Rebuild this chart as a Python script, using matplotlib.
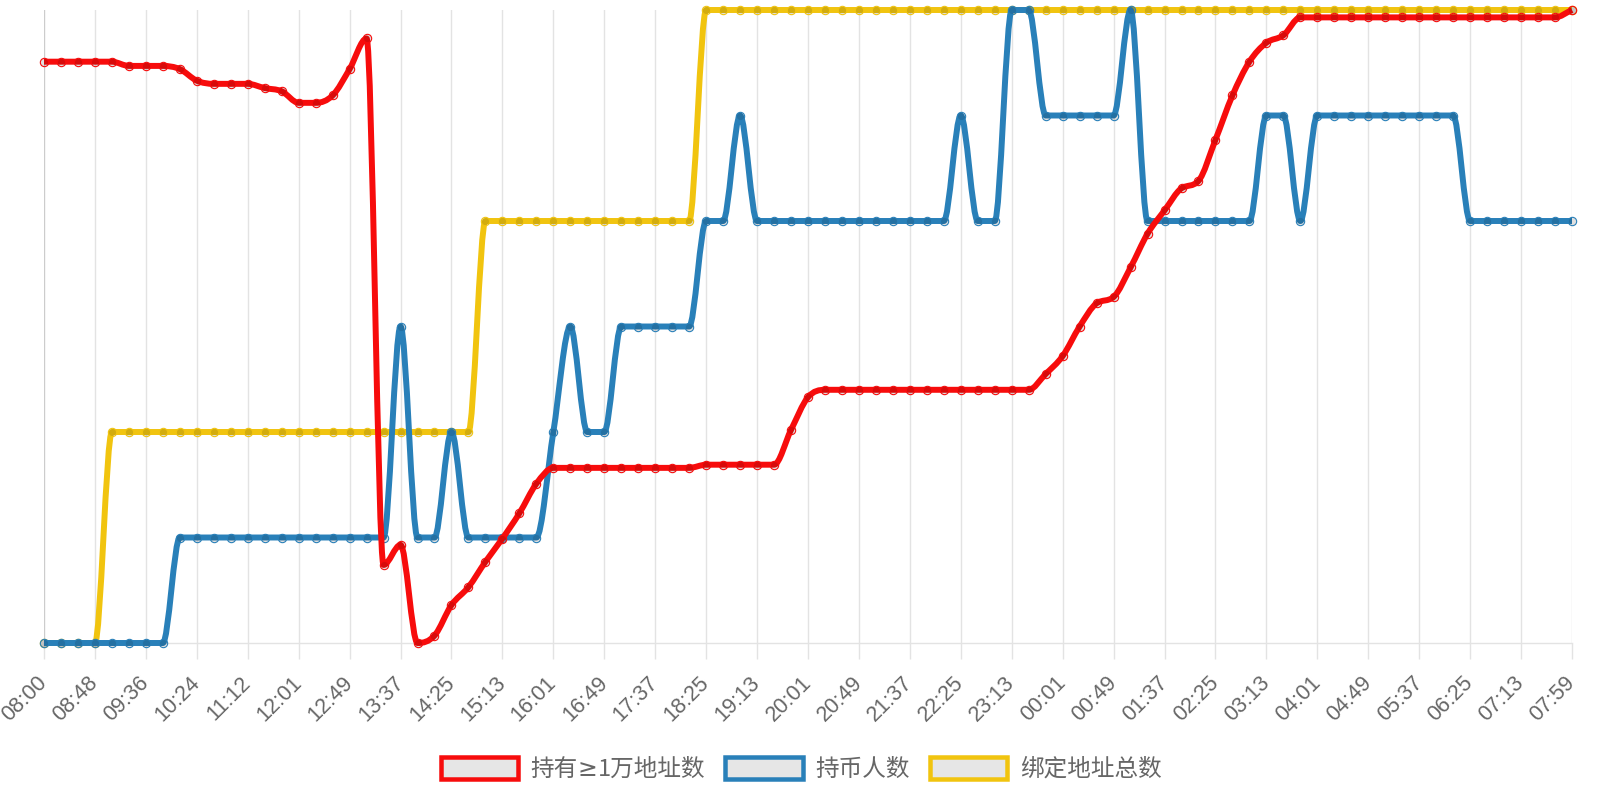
import numpy as np
import matplotlib
matplotlib.use("Agg")
import matplotlib.pyplot as plt
from matplotlib.path import Path
from matplotlib.patches import PathPatch, Rectangle

plt.rcParams['font.family'] = ['Noto Sans CJK SC', 'DejaVu Sans']

# ---------- データ ----------
tick_labels = ["08:00", "08:48", "09:36", "10:24", "11:12", "12:01", "12:49", "13:37",
               "14:25", "15:13", "16:01", "16:49", "17:37", "18:25", "19:13", "20:01",
               "20:49", "21:37", "22:25", "23:13", "00:01", "00:49", "01:37", "02:25",
               "03:13", "04:01", "04:49", "05:37", "06:25", "07:13", "07:59"]

series_names = ["持有≥1万地址数", "持币人数", "绑定地址总数"]
series_colors = ["#f70c0c", "#2980b9", "#f1c40f"]

holders_10k = ([5.51] * 5 + [5.47] * 3 + [5.44, 5.33] + [5.30] * 3 + [5.26, 5.23, 5.12, 5.12, 5.19, 5.44, 5.73]
               + [0.74, 0.93, 0.00, 0.07, 0.36, 0.53, 0.77, 0.99, 1.23, 1.51]
               + [1.66] * 9 + [1.69] * 5 + [2.02, 2.33] + [2.40] * 13
               + [2.55, 2.72, 3.00, 3.22, 3.28, 3.56, 3.88, 4.10, 4.31, 4.38, 4.77, 5.19, 5.51, 5.69, 5.76]
               + [5.93] * 16 + [6.00])

holders = ([0] * 8 + [1] * 13 + [3] + [1] * 2 + [2] + [1] * 5 + [2, 3] + [2] * 2 + [3] * 5
           + [4] * 2 + [5] + [4] * 12 + [5] + [4] * 2 + [6] * 2 + [5] * 5 + [6]
           + [4] * 7 + [5] * 2 + [4] + [5] * 9 + [4] * 7)

bound_total = [0] * 4 + [2] * 22 + [4] * 13 + [6] * 52

series_values = [holders_10k, holders, bound_total]

# ---------- レイアウト ----------
W, H, DPI = 1600, 800, 100
AX_L, AX_T, AX_W, AX_H = 44, 10, 1528, 633
Y_MAX = 6

n = len(holders)
xs = np.arange(n)


def monotone_path(x, y, ymin=0, ymax=Y_MAX):
    # 単調三次補間（Chart.js の monotone と同じ考え方）
    x = np.asarray(x, float)
    y = np.asarray(y, float)
    m = len(x)
    dk = np.zeros(m)
    for i in range(m - 1):
        dk[i] = (y[i + 1] - y[i]) / (x[i + 1] - x[i])
    mk = np.zeros(m)
    for i in range(m):
        if i == 0:
            mk[i] = dk[i]
        elif i == m - 1:
            mk[i] = dk[i - 1]
        elif np.sign(dk[i - 1]) != np.sign(dk[i]):
            mk[i] = 0
        else:
            mk[i] = (dk[i - 1] + dk[i]) / 2
    for i in range(m - 1):
        if dk[i] == 0:
            mk[i] = mk[i + 1] = 0
            continue
        a, b = mk[i] / dk[i], mk[i + 1] / dk[i]
        sq = a * a + b * b
        if sq <= 9:
            continue
        tau = 3 / np.sqrt(sq)
        mk[i] = a * tau * dk[i]
        mk[i + 1] = b * tau * dk[i]
    verts = [(x[0], y[0])]
    codes = [Path.MOVETO]
    for i in range(m - 1):
        dx = (x[i + 1] - x[i]) / 3
        c1 = (x[i] + dx, min(max(y[i] + dx * mk[i], ymin), ymax))
        c2 = (x[i + 1] - dx, min(max(y[i + 1] - dx * mk[i + 1], ymin), ymax))
        verts += [c1, c2, (x[i + 1], y[i + 1])]
        codes += [Path.CURVE4] * 3
    return Path(verts, codes)


fig = plt.figure(figsize=(W / DPI, H / DPI), dpi=DPI)
ax = fig.add_axes([AX_L / W, (H - AX_T - AX_H) / H, AX_W / W, AX_H / H])
ax.set_xlim(0, n - 1)
ax.set_ylim(0, Y_MAX)

# グリッド
for i in range(0, n, 3):
    ax.axvline(i, color='#cccccc' if i == 0 else '#e3e3e3', lw=1.0, zorder=0)

for name in ['top', 'right', 'left']:
    ax.spines[name].set_visible(False)
ax.spines['bottom'].set_color('#e3e3e3')
ax.spines['bottom'].set_linewidth(1.0)
ax.set_yticks([])

ax.set_xticks(range(0, n, 3))
ax.set_xticklabels(tick_labels, rotation=45, ha='right', va='center', rotation_mode='anchor',
                   family=['Liberation Sans', 'DejaVu Sans'])
ax.tick_params(axis='x', length=11.5, width=1.0, color='#e3e3e3', pad=15,
               labelsize=15.6, labelcolor='#666666')
ax.xaxis.get_major_ticks()[0].tick1line.set_color('#cccccc')

# 折れ線（先頭の系列が最前面）
for k, (vals, col) in enumerate(zip(series_values, series_colors)):
    z = 5 - k
    path = monotone_path(xs, vals)
    ax.add_patch(PathPatch(path, fill=False, edgecolor=col, lw=4.3,
                           capstyle='butt', joinstyle='round', zorder=z, clip_on=False))
    ax.plot(xs, vals, ls='none', marker='o', ms=6.0, mfc=(0, 0, 0, 0.12), mec=col,
            mew=0.8, zorder=z + 0.1, clip_on=False)

# 凡例（「≥」だけは欧文フォントで描く）
renderer = fig.canvas.get_renderer()
box_w, box_h, bw = 82, 26, 4.5
gap_txt, gap_item = 10, 18
legend_y = 768
font_cjk = ['Noto Sans CJK SC', 'DejaVu Sans']
font_sym = ['DejaVu Sans']


def split_label(s):
    parts, buf = [], ""
    for ch in s:
        if ch == "≥":
            if buf:
                parts.append((buf, font_cjk))
            parts.append((ch, font_sym))
            buf = ""
        else:
            buf += ch
    if buf:
        parts.append((buf, font_cjk))
    return parts


items = []
for s in series_names:
    pieces = []
    for txt, fam in split_label(s):
        t = fig.text(0, 0, txt, fontsize=17, color='#666666', ha='left', va='baseline', family=fam)
        pieces.append((t, t.get_window_extent(renderer).width))
    items.append(pieces)

widths = [sum(w for _, w in p) for p in items]
total = sum(box_w + gap_txt + w for w in widths) + gap_item * (len(widths) - 1)
x0 = (W - total) / 2
for pieces, w, col in zip(items, widths, series_colors):
    fig.patches.append(Rectangle(((x0 + bw / 2) / W, (H - legend_y - box_h / 2 + bw / 2) / H),
                                 (box_w - bw) / W, (box_h - bw) / H, transform=fig.transFigure,
                                 facecolor='#e6e6e6', edgecolor=col, lw=bw * 0.72, joinstyle='miter'))
    tx = x0 + box_w + gap_txt
    for t, pw in pieces:
        t.set_position((tx / W, (H - legend_y - 8) / H))
        tx += pw
    x0 += box_w + gap_txt + w + gap_item

fig.savefig('out.png', dpi=DPI)
